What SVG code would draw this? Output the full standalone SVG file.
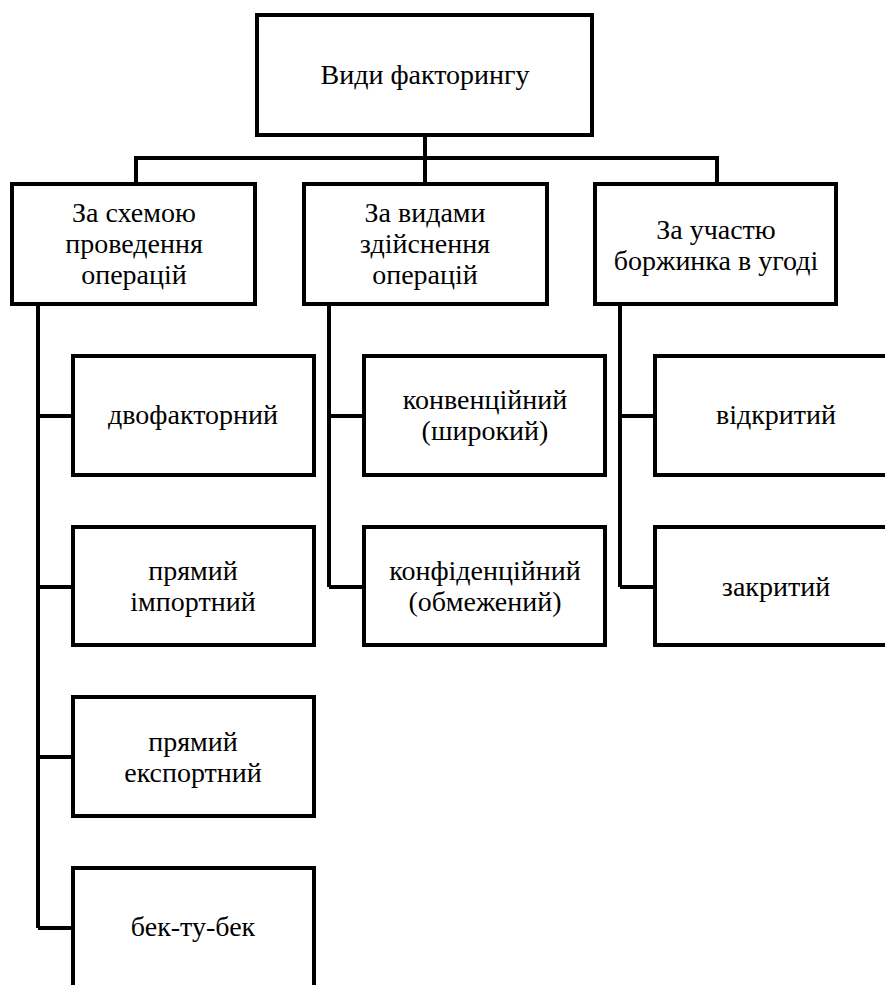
<svg xmlns="http://www.w3.org/2000/svg" width="885" height="985" viewBox="0 0 885 985">
<style>
.box{fill:#fff;stroke:#000;stroke-width:4}
.ln{fill:none;stroke:#000;stroke-width:4}
.t{font-family:Tinos,'Liberation Serif','Noto Serif','DejaVu Serif',FreeSerif,Times,serif;font-size:28px;fill:#000;text-anchor:middle}
</style>
<rect width="885" height="985" fill="#fff"/>
<g id="connectors">
<path class="ln" d="M425,135 V158 M136,184 V158 H717 V184 M425,158 V184"/>
<path class="ln" d="M38,304 V928 M38,416 H73 M38,587 H73 M38,757 H73 M38,928 H73"/>
<path class="ln" d="M329,304 V587 M329,416 H364 M329,587 H364"/>
<path class="ln" d="M620,304 V587 M620,416 H655 M620,587 H655"/>
</g>
<g id="root"><rect class="box" x="257" y="15" width="335" height="120"/><text class="t" font-family="Liberation Serif, serif" x="425" y="84">Види факторингу</text></g>
<g id="scheme"><rect class="box" x="12" y="184" width="243" height="120"/><text class="t" x="134" y="222">За схемою</text><text class="t" x="134" y="253">проведення</text><text class="t" x="134" y="284">операцій</text></g>
<g id="kinds"><rect class="box" x="304" y="184" width="243" height="120"/><text class="t" x="425" y="222">За видами</text><text class="t" x="425" y="253">здійснення</text><text class="t" x="425" y="284">операцій</text></g>
<g id="debtor"><rect class="box" x="595" y="184" width="241" height="120"/><text class="t" x="716" y="239">За участю</text><text class="t" x="716" y="270">боржинка в угоді</text></g>
<g id="two"><rect class="box" x="73" y="356" width="241" height="119"/><text class="t" x="193" y="424">двофакторний</text></g>
<g id="import"><rect class="box" x="73" y="527" width="241" height="118"/><text class="t" x="193" y="580">прямий</text><text class="t" x="193" y="611">імпортний</text></g>
<g id="export"><rect class="box" x="73" y="697" width="241" height="119"/><text class="t" x="193" y="751">прямий</text><text class="t" x="193" y="782">експортний</text></g>
<g id="backtoback"><rect class="box" x="73" y="868" width="241" height="130"/><text class="t" x="193" y="936">бек-ту-бек</text></g>
<g id="conv"><rect class="box" x="364" y="356" width="241" height="119"/><text class="t" x="485" y="409">конвенційний</text><text class="t" x="485" y="440">(широкий)</text></g>
<g id="conf"><rect class="box" x="364" y="527" width="241" height="118"/><text class="t" x="485" y="580">конфіденційний</text><text class="t" x="485" y="611">(обмежений)</text></g>
<g id="open"><rect class="box" x="655" y="356" width="242" height="119"/><text class="t" x="776" y="424">відкритий</text></g>
<g id="closed"><rect class="box" x="655" y="527" width="242" height="118"/><text class="t" x="776" y="596">закритий</text></g>
</svg>
